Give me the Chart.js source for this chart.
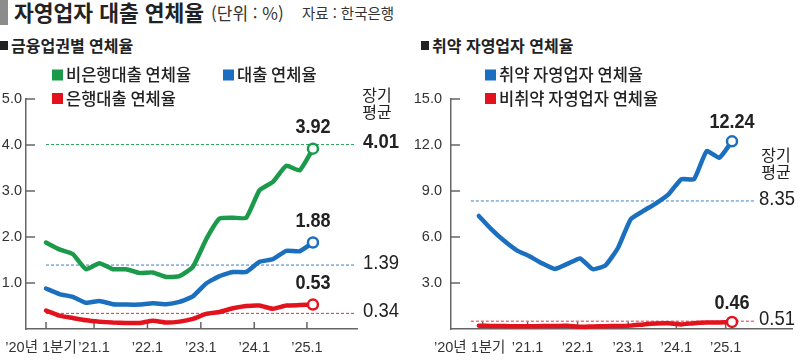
<!DOCTYPE html>
<html lang="ko">
<head>
<meta charset="utf-8">
<script src="https://cdn.jsdelivr.net/npm/chart.js@4.4.1/dist/chart.umd.min.js"></script>
<style>
  body { margin: 0; background: #fff; width: 800px; height: 360px; position: relative; overflow: hidden;
         font-family: "Noto Sans CJK KR", sans-serif; color: #222; }
  .t { position: absolute; white-space: nowrap; }
  canvas { position: absolute; top: 0; }
</style>
</head>
<body>
<div class="t" style="left:0;top:0;width:8px;height:25px;background:#8c8c8c"></div>
<div class="t" style="left:14px;top:-1px;font-size:21.5px;font-weight:700;line-height:26px">자영업자 대출 연체율</div>
<div class="t" style="left:211px;top:1px;font-size:17px;line-height:24px;color:#333">(단위 : %)</div>
<div class="t" style="left:302px;top:2px;font-size:14.5px;line-height:22px;color:#333">자료 : 한국은행</div>
<div class="t" style="left:0;top:41px;width:8px;height:9px;background:#222"></div>
<div class="t" style="left:11px;top:35px;font-size:16px;font-weight:700;line-height:20px">금융업권별 연체율</div>
<div class="t" style="left:421px;top:41px;width:8px;height:9px;background:#222"></div>
<div class="t" style="left:432px;top:35px;font-size:16px;font-weight:700;line-height:20px">취약 자영업자 연체율</div>

<canvas id="left" width="400" height="360" style="left:0"></canvas>
<canvas id="right" width="400" height="360" style="left:400px"></canvas>

<script>
// quarterly, '20.1 ~ '25.1
const quarters = ['20.1','20.2','20.3','20.4','21.1','21.2','21.3','21.4','22.1','22.2','22.3','22.4',
                  '23.1','23.2','23.3','23.4','24.1','24.2','24.3','24.4','25.1'];
const xLabels = ['’20년 1분기', '’21.1', '’22.1', '’23.1', '’24.1', '’25.1'];

// 금융업권별 연체율 (%)
const nonBankRate = [1.88,1.73,1.63,1.30,1.43,1.30,1.30,1.22,1.23,1.13,1.15,1.35,1.95,2.40,2.42,2.42,3.02,3.20,3.55,3.45,3.92];
const totalRate   = [0.88,0.76,0.70,0.57,0.61,0.54,0.53,0.53,0.56,0.54,0.59,0.71,0.99,1.15,1.24,1.24,1.46,1.52,1.70,1.69,1.88];
const bankRate    = [0.40,0.29,0.24,0.19,0.16,0.14,0.13,0.13,0.18,0.14,0.16,0.22,0.33,0.37,0.45,0.50,0.51,0.44,0.51,0.52,0.53];
const leftAvg     = [4.01, 1.39, 0.34];   // 장기 평균

// 취약 자영업자 연체율 (%)
const vulnRate    = [7.37,6.50,5.75,5.13,4.75,4.28,3.92,4.25,4.60,3.90,4.15,5.30,7.16,7.70,8.20,8.80,9.77,9.77,11.60,11.17,12.24];
const nonVulnRate = [0.22,0.20,0.19,0.18,0.18,0.19,0.20,0.21,0.14,0.17,0.18,0.20,0.22,0.30,0.36,0.37,0.30,0.38,0.42,0.43,0.46];
const rightAvg    = [8.35, 0.51];

const GREEN = '#1a9a4a', BLUE = '#1b6fbf', RED = '#e3131e';
const SANS = '"Liberation Sans", Arial, sans-serif';
const KR = '"Noto Sans CJK KR", sans-serif';

const toXY = arr => arr.map((v, i) => ({x: i, y: v}));

function mainLine(label, values, color) {
  return {
    label, data: toXY(values), borderColor: color, backgroundColor: '#fff',
    borderWidth: 4.5, tension: 0.15, borderCapStyle: 'round', borderJoinStyle: 'round',
    pointRadius: c => c.dataIndex === values.length - 1 ? 5 : 0,
    pointBorderWidth: 2.5, pointBackgroundColor: '#fff', pointBorderColor: color,
    order: 1
  };
}
function avgLine(value, color, x0, x1) {
  return {
    label: 'avg', data: [{x: x0, y: value}, {x: x1, y: value}], borderColor: color,
    borderWidth: 1, borderDash: [3, 2], pointRadius: 0, order: 2
  };
}

// squeezed text, the original uses a condensed face
function narrow(ctx, s, x, y, sx) {
  ctx.save();
  ctx.translate(x, y);
  ctx.scale(sx, 1);
  ctx.fillText(s, 0, 0);
  ctx.restore();
}

// tick marks pointing inward, x labels, legend, end & average labels
const extras = {
  id: 'extras',
  beforeDatasetsDraw(chart, args, o) {
    const {ctx, chartArea: a, scales: {x, y}} = chart;
    ctx.save();
    ctx.strokeStyle = '#666';
    ctx.lineWidth = 1.5;
    ctx.beginPath();
    x.ticks.forEach(t => { const px = x.getPixelForValue(t.value); ctx.moveTo(px, a.bottom); ctx.lineTo(px, a.bottom - 7); });
    y.ticks.forEach(t => { if (!t.value) return; const py = y.getPixelForValue(t.value); ctx.moveTo(a.left, py); ctx.lineTo(a.left + 9, py); });
    ctx.stroke();
    ctx.fillStyle = '#333';
    ctx.font = '14.5px ' + SANS + ', ' + KR;
    ctx.textAlign = 'center';
    ctx.textBaseline = 'middle';
    x.ticks.forEach((t, i) => {
      ctx.fillText(xLabels[i], x.getPixelForValue(t.value) + (i === 0 ? o.firstOff : 0), 348);
    });
    ctx.restore();
  },
  afterDatasetsDraw(chart, args, o) {
    const {ctx} = chart;
    const ds = chart.data.datasets;
    ctx.save();
    // legend
    ctx.font = '500 16.5px ' + KR;
    ctx.textBaseline = 'middle';
    ctx.textAlign = 'left';
    o.legend.forEach((p, k) => {
      const d = ds[k];
      ctx.fillStyle = d.borderColor;
      ctx.fillRect(p.x, p.y - 5.5, 11, 11);
      ctx.fillStyle = '#222';
      ctx.fillText(d.label, p.x + 14, p.y);
    });
    // end-point labels
    ctx.font = 'bold 21px ' + SANS;
    ctx.textAlign = 'center';
    o.ends.forEach(k => {
      const pts = chart.getDatasetMeta(k).data;
      const last = pts[pts.length - 1];
      narrow(ctx, ds[k].data[ds[k].data.length - 1].y.toFixed(2), last.x, last.y - o.endOff, 0.86);
    });
    // long-term averages
    ctx.textAlign = 'left';
    o.avgs.forEach((k, j) => {
      const pts = chart.getDatasetMeta(k).data;
      ctx.font = (j === 0 && o.firstBold ? 'bold ' : '') + '21px ' + SANS;
      narrow(ctx, ds[k].data[0].y.toFixed(2), o.avgX, pts[1].y - 2, 0.88);
    });
    ctx.font = '16px ' + KR;
    ctx.textAlign = 'center';
    ctx.fillText('장기', o.titleX, o.titleY);
    ctx.fillText('평균', o.titleX, o.titleY + 17);
    ctx.restore();
  }
};

function makeOptions(cfg) {
  return {
    responsive: false, animation: false, events: [],
    layout: {padding: {top: 99, right: cfg.padRight, left: 0, bottom: 0}},
    plugins: {legend: {display: false}, tooltip: {enabled: false}, extras: cfg.extras},
    scales: {
      x: {
        type: 'linear', min: cfg.xMin, max: cfg.xMax,
        grid: {display: false, drawTicks: false},
        border: {display: true, color: '#666', width: 1.5},
        afterBuildTicks: s => { s.ticks = cfg.xTicks.map(v => ({value: v})); },
        afterFit: s => { s.height = 31; s.paddingLeft = 0; s.paddingRight = 0; },
        ticks: {display: false}
      },
      y: {
        min: 0, max: cfg.yMax,
        grid: {display: false, drawTicks: false},
        border: {display: true, color: '#666', width: 1.5},
        afterFit: s => { s.width = cfg.yWidth; s.paddingTop = 0; s.paddingBottom = 0; },
        ticks: {
          stepSize: cfg.yStep, padding: cfg.yPad, color: '#333',
          font: {family: SANS, size: 14.5},
          callback: v => v === 0 ? '' : v.toFixed(1)
        }
      }
    }
  };
}

new Chart(document.getElementById('left'), {
  type: 'line',
  data: {
    datasets: [
      mainLine('비은행대출 연체율', nonBankRate, GREEN),
      mainLine('대출 연체율', totalRate, BLUE),
      mainLine('은행대출 연체율', bankRate, RED),
      avgLine(leftAvg[0], '#2aa05a', 0, 23.15),
      avgLine(leftAvg[1], '#3b7fc4', 0, 23.15),
      avgLine(leftAvg[2], '#e0303a', 0, 23.15)
    ]
  },
  options: makeOptions({
    padRight: 43, xMin: -1.5, xMax: 23.3, xTicks: [0, 3.6, 7.6, 11.6, 15.6, 19.55],
    yMax: 5, yStep: 1, yWidth: 26, yPad: 4,
    extras: {
      legend: [{x: 52, y: 75}, {x: 223, y: 75}, {x: 52, y: 98.5}],
      ends: [0, 1, 2], endOff: 21, avgs: [3, 4, 5], firstBold: true, firstOff: -5,
      avgX: 363, titleX: 377, titleY: 95
    }
  }),
  plugins: [extras]
});

new Chart(document.getElementById('right'), {
  type: 'line',
  data: {
    datasets: [
      mainLine('취약 자영업자 연체율', vulnRate, BLUE),
      mainLine('비취약 자영업자 연체율', nonVulnRate, RED),
      avgLine(rightAvg[0], '#3b7fc4', -0.63, 21.8),
      avgLine(rightAvg[1], '#e0303a', -0.63, 21.8)
    ]
  },
  options: makeOptions({
    padRight: 5, xMin: -2.2, xMax: 24.78, xTicks: [0.3, 3.85, 7.8, 11.8, 15.6, 19.5],
    yMax: 15, yStep: 3, yWidth: 51, yPad: 9,
    extras: {
      legend: [{x: 85, y: 75}, {x: 85, y: 98.5}],
      ends: [0, 1], endOff: 19, avgs: [2, 3], firstBold: false, firstOff: -13,
      avgX: 359, titleX: 376, titleY: 155
    }
  }),
  plugins: [extras]
});
</script>
</body>
</html>
